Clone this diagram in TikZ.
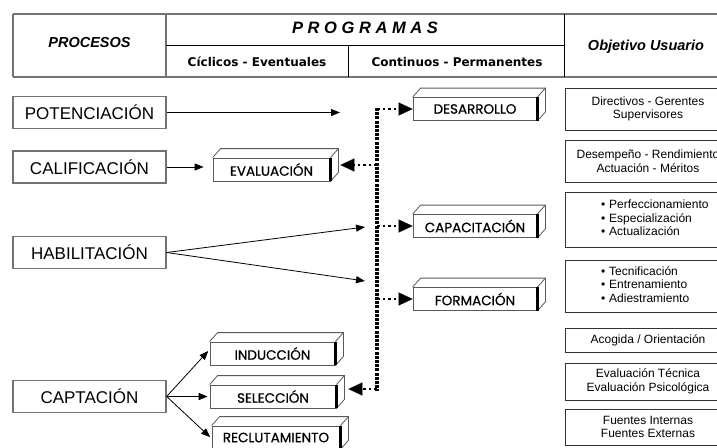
\documentclass[tikz,border=0pt]{standalone}
\usepackage{fontspec}
\setmainfont{Liberation Sans}
\newfontfamily\geofont{Poppins}[FakeBold=0.6]
\newfontfamily\tahofont{DejaVu Sans}
\usetikzlibrary{arrows.meta}

\tikzset{
  marco/.style={line width=1.6pt, black!55},
  linea/.style={line width=1pt, black},
  proceso/.style={draw=black!55, line width=1.3pt, minimum width=153pt, minimum height=32pt, inner sep=0pt, font=\fontsize{17}{20}\selectfont},
  caja/.style={draw=black!65, line width=0.8pt, minimum width=124pt, minimum height=23pt, inner sep=0pt, font=\geofont\fontsize{13.5}{15}\selectfont},
  objetivo/.style={draw=black!80, line width=1pt, minimum width=166pt, inner sep=0pt, font=\fontsize{12}{13.5}\selectfont, align=center},
  lista/.style={objetivo, text width=166pt, align=left},
  flecha/.style={-{Triangle[length=9pt,width=7pt]}, line width=1.1pt},
  punteado/.style={line width=3.2pt, dash pattern=on 3pt off 1.2pt},
  rama/.style={line width=2.6pt, dash pattern=on 2.6pt off 3pt, -{Triangle[length=14pt,width=13pt,line width=0.1pt]}},
}

% top and side faces of a 3D box
\newcommand{\fondocaja}[1]{%
  \draw[black!65, line width=0.8pt] (#1.north west) -- ++(8pt,9pt) -- ([shift={(8pt,9pt)}]#1.north east)
     -- ([shift={(8pt,9pt)}]#1.south east) -- (#1.south east);
  \draw[black!65, line width=0.8pt] (#1.north east) -- ++(8pt,9pt);
  \draw[line width=2.2pt] (#1.north east) -- (#1.south east);
}

\begin{document}
\begin{tikzpicture}[x=1pt, y=-1pt]
\useasboundingbox (0,0) rectangle (717,447);
\clip (0,0) rectangle (717,447);

% header table
\draw[marco] (13,14) -- (740,14); % top line
\draw[marco] (13,77) -- (740,77); % bottom line
\draw[marco] (13,14) -- (13,77); % left border
\draw[marco] (166,14) -- (166,77); % procesos | programas
\draw[linea] (166,45) -- (564,45); % programas split
\draw[linea] (348,45) -- (348,77); % ciclicos | continuos
\draw[linea] (564,14) -- (564,77); % programas | objetivo

\node[font=\bfseries\itshape\fontsize{14.5}{16}\selectfont] (procesos) at (89.5,43) {PROCESOS};
\node[font=\bfseries\itshape\fontsize{16.5}{18}\selectfont] (programas) at (365,28) {P R O G R A M A S};
\node[font=\tahofont\bfseries\fontsize{12}{14}\selectfont] (ciclicos) at (257,62) {Cíclicos - Eventuales};
\node[font=\tahofont\bfseries\fontsize{12}{14}\selectfont] (continuos) at (457,62) {Continuos - Permanentes};
\node[font=\bfseries\itshape\fontsize{14.5}{16}\selectfont] (usuario) at (646,47) {Objetivo Usuario};

% processes
\node[proceso] (potenciacion) at (89.5,112.5) {POTENCIACIÓN};
\node[proceso] (calificacion) at (89.5,167) {CALIFICACIÓN};
\node[proceso] (habilitacion) at (89.5,252.5) {HABILITACIÓN};
\node[proceso] (captacion) at (89.5,396.5) {CAPTACIÓN};

% programs (3D boxes)
\node[caja, minimum width=117pt] (evaluacion) at (271.5,169.5) {EVALUACIÓN};
\node[caja] (desarrollo) at (475,109) {DESARROLLO};
\node[caja] (capacitacion) at (475,226) {CAPACITACIÓN};
\node[caja] (formacion) at (475,299) {FORMACIÓN};
\node[caja, minimum width=125pt] (induccion) at (272.5,353.5) {INDUCCIÓN};
\node[caja, minimum width=126pt] (seleccion) at (273,396.5) {SELECCIÓN};
\node[caja, minimum width=128pt] (reclutamiento) at (276,437.5) {RECLUTAMIENTO};
\fondocaja{evaluacion}
\fondocaja{desarrollo}
\fondocaja{capacitacion}
\fondocaja{formacion}
\fondocaja{induccion}
\fondocaja{seleccion}
\fondocaja{reclutamiento}

% user goals
\node[objetivo, minimum height=42pt] (directivos) at (648,109) {Directivos - Gerentes\\Supervisores};
\node[objetivo, minimum height=42pt] (desempeno) at (648,161) {Desempeño - Rendimiento\\Actuación - Méritos};
\node[lista, minimum height=55pt] (perfecc) at (648,219.5) {\hspace*{36pt}\begin{tabular}{@{}l@{}}
  \textbullet\hspace{4pt}Perfeccionamiento\\\textbullet\hspace{4pt}Especialización\\\textbullet\hspace{4pt}Actualización\end{tabular}};
\node[lista, minimum height=52pt] (tecnif) at (648,286) {\hspace*{36pt}\begin{tabular}{@{}l@{}}
  \textbullet\hspace{4pt}Tecnificación\\\textbullet\hspace{4pt}Entrenamiento\\\textbullet\hspace{4pt}Adiestramiento\end{tabular}};
\node[objetivo, minimum height=24pt] (acogida) at (648,340) {Acogida / Orientación};
\node[objetivo, minimum height=37pt] (evaltec) at (648,381.5) {Evaluación Técnica\\Evaluación Psicológica};
\node[objetivo, minimum height=36pt] (fuentes) at (648,427) {Fuentes Internas\\Fuentes Externas};

% solid arrows
\coordinate (finpot) at (340,112.5);
\coordinate (habarriba) at (365,227);
\coordinate (hababajo) at (365,281);
\draw[flecha] (potenciacion.east) -- (finpot);
\draw[flecha, line width=0.8pt, shorten >=9pt] (calificacion.east) -- (evaluacion.west |- calificacion.east);
\draw[flecha, line width=0.8pt] (habilitacion.east) -- (habarriba);
\draw[flecha, line width=0.8pt] (habilitacion.east) -- (hababajo);
\draw[flecha, line width=0.8pt, shorten >=2pt] (captacion.east) -- ([yshift=4pt]induccion.west);
\draw[flecha, line width=1.6pt, shorten >=2pt] (captacion.east) -- (seleccion.west);
\draw[flecha, line width=0.8pt, shorten >=2pt] (captacion.east) -- ([yshift=-1pt]reclutamiento.west);

% dotted trunk and branches
\coordinate (troncoarriba) at (377,108);
\coordinate (troncoabajo) at (377,391);
\coordinate (evalder) at ([shift={(10pt,4.5pt)}]evaluacion.east);
\coordinate (selder) at ([shift={(12pt,7.5pt)}]seleccion.east);
\draw[punteado] (troncoarriba) -- (troncoabajo);
\draw[rama] (troncoarriba |- desarrollo.west) -- (desarrollo.west);
\draw[rama] (troncoarriba |- evalder) -- (evalder);
\draw[rama] (troncoarriba |- capacitacion.west) -- (capacitacion.west);
\draw[rama] (troncoarriba |- formacion.west) -- (formacion.west);
\draw[rama] (troncoarriba |- selder) -- (selder);

\end{tikzpicture}
\end{document}
